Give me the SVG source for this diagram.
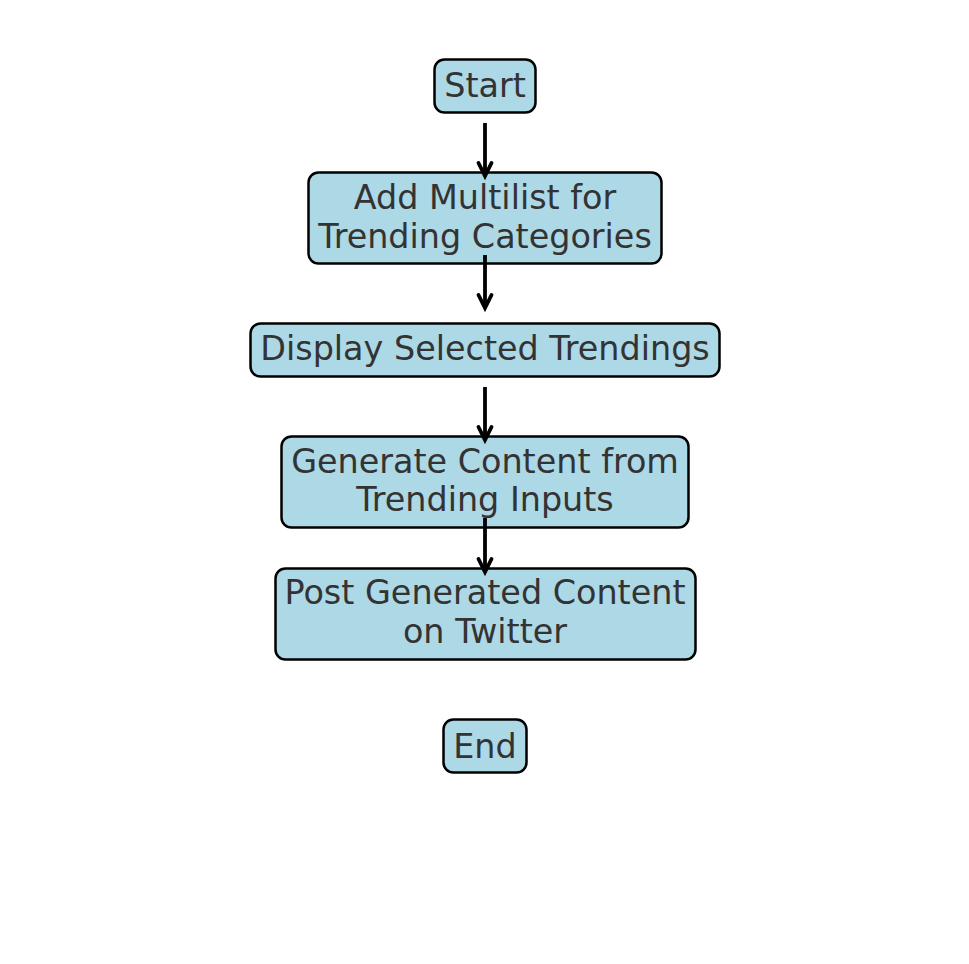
<svg xmlns="http://www.w3.org/2000/svg" width="969" height="964" viewBox="0 0 969 964">
<defs>
<style>
.box{fill:#ADD8E6;stroke:#000;stroke-width:2.5}
.t{font-family:"DejaVu Sans",sans-serif;font-size:33.4px;fill:#333333;text-anchor:middle}
.c{stroke:#000;stroke-width:3.8;fill:none}
</style>
<marker id="ah" markerUnits="userSpaceOnUse" markerWidth="24" markerHeight="24" viewBox="-18 -12 24 24" refX="0" refY="0" orient="auto">
<path d="M-13,-6.5 L0,0 L-13,6.5" fill="none" stroke="#000" stroke-width="3.8" stroke-linecap="round" stroke-linejoin="miter"/>
</marker>
</defs>
<rect width="969" height="964" fill="#fff"/>
<g id="start">
<rect class="box" x="434.5" y="59.5" width="101" height="53" rx="10"/>
<text class="t" x="485" y="97">Start</text>
</g>
<g id="add-multilist">
<rect class="box" x="308.5" y="172.5" width="353" height="91" rx="10"/>
<text class="t" x="485" y="209">Add Multilist for</text>
<text class="t" x="485" y="248">Trending Categories</text>
</g>
<g id="display">
<rect class="box" x="250.5" y="323.5" width="469" height="53" rx="10"/>
<text class="t" x="485" y="360">Display Selected Trendings</text>
</g>
<g id="generate">
<rect class="box" x="281.5" y="436.5" width="407" height="91" rx="10"/>
<text class="t" x="485" y="473">Generate Content from</text>
<text class="t" x="485" y="511">Trending Inputs</text>
</g>
<g id="post">
<rect class="box" x="275.5" y="568.5" width="420" height="91" rx="10"/>
<text class="t" x="485" y="604">Post Generated Content</text>
<text class="t" x="485" y="643">on Twitter</text>
</g>
<g id="end">
<rect class="box" x="443.5" y="719.5" width="83" height="53" rx="10"/>
<text class="t" x="485" y="758">End</text>
</g>
<g id="connectors">
<line class="c" x1="485" y1="123" x2="485" y2="176" marker-end="url(#ah)"/>
<line class="c" x1="485" y1="255" x2="485" y2="308" marker-end="url(#ah)"/>
<line class="c" x1="485" y1="387" x2="485" y2="440" marker-end="url(#ah)"/>
<line class="c" x1="485" y1="518" x2="485" y2="572" marker-end="url(#ah)"/>
</g>
</svg>
